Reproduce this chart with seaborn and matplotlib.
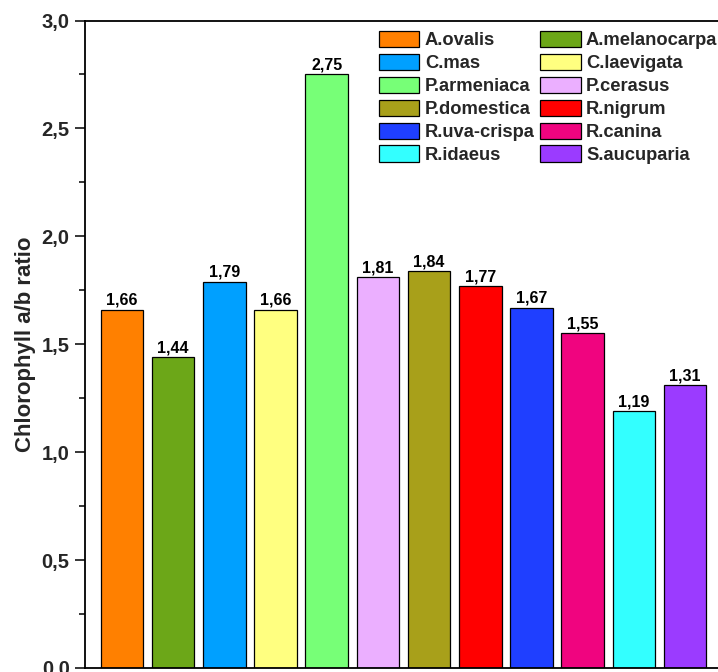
"""Chlorophyll a/b ratio by species - bar chart."""

import matplotlib
matplotlib.use("Agg")
import matplotlib.pyplot as plt
from matplotlib.ticker import FuncFormatter, MultipleLocator
import pandas as pd
import seaborn as sns

SPECIES = [
    "A.ovalis", "A.melanocarpa", "C.mas", "C.laevigata", "P.armeniaca",
    "P.cerasus", "P.domestica", "R.nigrum", "R.uva-crispa", "R.canina",
    "R.idaeus", "S.aucuparia",
]
RATIO = [1.66, 1.44, 1.79, 1.66, 2.75, 1.81, 1.84, 1.77, 1.67, 1.55, 1.19, 1.31]
COLORS = [
    "#FF8000", "#6CA718", "#00A0FF", "#FFFF80", "#77FF77", "#EBAFFF",
    "#A8A01A", "#FF0000", "#1F3FFF", "#F0047F", "#33FFFF", "#9B3BFF",
]
Y_TICKS = [0.0, 0.5, 1.0, 1.5, 2.0, 2.5, 3.0]

sns.set_theme(style="ticks")
plt.rcParams["font.family"] = ["Liberation Sans", "DejaVu Sans"]
plt.rcParams["font.weight"] = "bold"

df = pd.DataFrame({"species": SPECIES, "ratio": RATIO})

W, H = 718, 672
fig = plt.figure(figsize=(W / 100, H / 100), dpi=100)
fig.patch.set_facecolor("white")
ax = fig.add_axes([85 / W, 4 / H, (722 - 85) / W, (668 - 20.5) / H])

sns.barplot(
    data=df, x="species", y="ratio", hue="species", order=SPECIES,
    hue_order=SPECIES, palette=dict(zip(SPECIES, COLORS)), dodge=False,
    width=0.83, edgecolor="black", linewidth=0.9, saturation=1, ax=ax,
    legend=True,
)

for patch, val in zip(ax.patches, RATIO):
    ax.text(
        patch.get_x() + patch.get_width() / 2, val + 0.008,
        f"{val:.2f}".replace(".", ","), ha="center", va="bottom",
        fontsize=11.5, fontweight="bold", color="black",
    )

ax.set_xlim(-0.72, 11.72)
ax.set_ylim(0, 3.0)
ax.set_yticks(Y_TICKS)
ax.yaxis.set_minor_locator(MultipleLocator(0.25))
ax.yaxis.set_major_formatter(FuncFormatter(lambda v, _: f"{v:.1f}".replace(".", ",")))
ax.tick_params(axis="y", which="major", length=7, width=1.3, labelsize=14.5, direction="out", pad=4)
ax.tick_params(axis="y", which="minor", length=4, width=1.3, direction="out")
ax.tick_params(axis="x", which="both", bottom=False, labelbottom=False)
for lab in ax.get_yticklabels():
    lab.set_fontweight("bold")
ax.set_xlabel("")
ax.set_ylabel("Chlorophyll a/b ratio", fontsize=16, fontweight="bold", labelpad=4)
for side in ax.spines.values():
    side.set_linewidth(1.3)
    side.set_color("black")

handles, labels = ax.get_legend_handles_labels()
ax.get_legend().remove()
order = list(range(0, 12, 2)) + list(range(1, 12, 2))
leg = fig.legend(
    [handles[i] for i in order], [labels[i] for i in order],
    loc="upper left", bbox_to_anchor=(379 / W, 1 - 31 / H), ncol=2,
    frameon=False, fontsize=13.2, handlelength=2.2, handleheight=1.0,
    labelspacing=0.24, handletextpad=0.3, columnspacing=0.3,
    borderpad=0, borderaxespad=0,
)
for t in leg.get_texts():
    t.set_fontweight("bold")

fig.savefig("out.png", dpi=100, facecolor="white")
